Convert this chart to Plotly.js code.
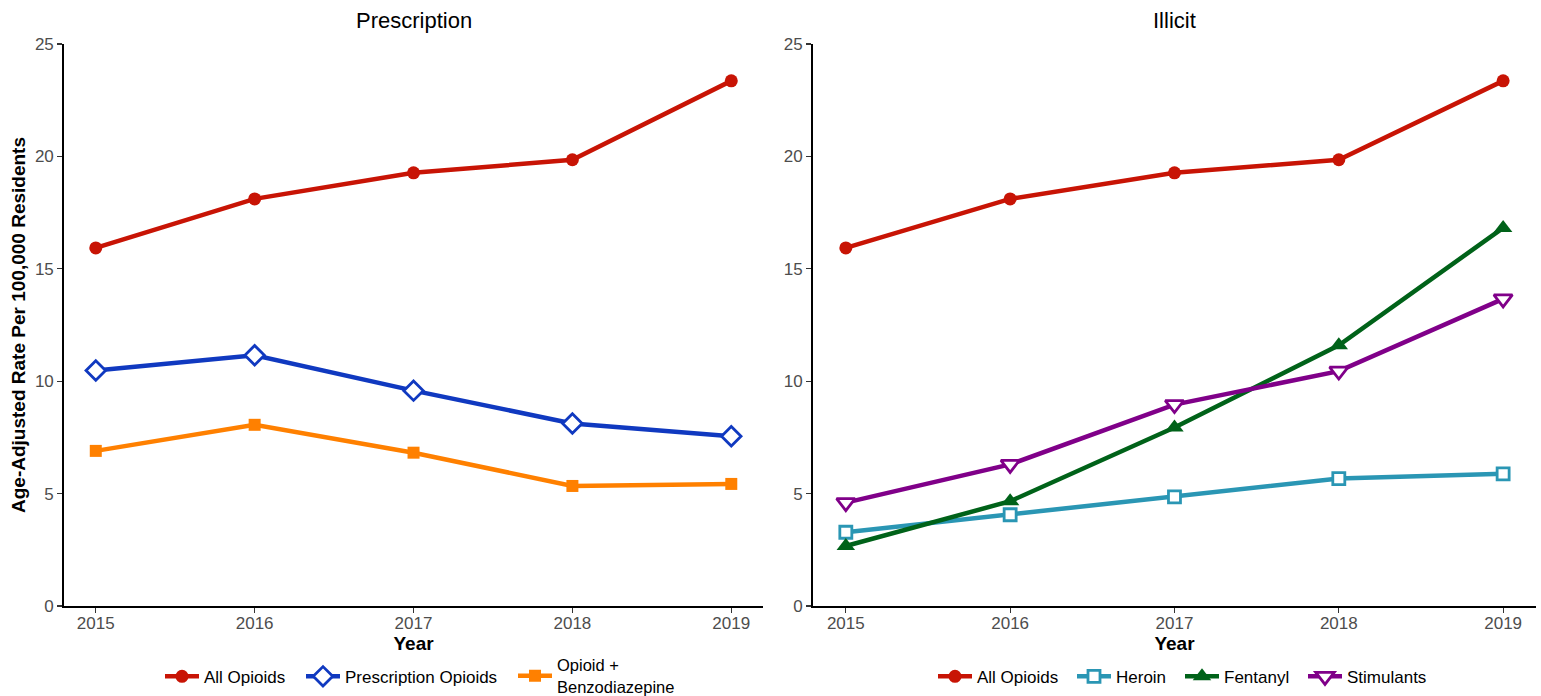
<!DOCTYPE html>
<html>
<head>
<meta charset="utf-8">
<script src="https://cdn.plot.ly/plotly-3.0.1.min.js"></script>
<style>html,body{margin:0;padding:0;background:#fff;}#chart{width:1541px;height:696px;}</style>
</head>
<body>
<div id="chart"></div>
<script>
const years = [2015, 2016, 2017, 2018, 2019];
const allOpioids = [15.93, 18.11, 19.27, 19.85, 23.36];
const prescriptionOpioids = [10.48, 11.15, 9.58, 8.12, 7.55];
const opioidBenzo = [6.9, 8.06, 6.82, 5.34, 5.43];
const heroin = [3.28, 4.06, 4.85, 5.67, 5.88];
const fentanyl = [2.67, 4.66, 7.94, 11.6, 16.82];
const stimulants = [4.6, 6.3, 8.96, 10.45, 13.66];
const yTicks = [0, 5, 10, 15, 20, 25];
const panelTitles = ["Prescription", "Illicit"];

const RED = '#C81405', BLUE = '#1039C0', ORANGE = '#FF8000', TEAL = '#2A96B4', GREEN = '#006219', PURPLE = '#800089';
const LW = 4.5;

function tr(y, name, color, sym, xa, ya, leg, open, size) {
  return {
    x: years, y: y, name: name, type: 'scatter', mode: 'lines+markers',
    xaxis: xa, yaxis: ya, legend: leg,
    line: {color: color, width: LW},
    marker: {symbol: sym, size: size || 12, color: open ? '#ffffff' : color,
             line: {color: color, width: open ? 2.8 : 0}},
    hoverinfo: 'x+y+name'
  };
}

const data = [
  tr(allOpioids, 'All Opioids', RED, 'circle', 'x', 'y', 'legend', false, 13),
  tr(prescriptionOpioids, 'Prescription Opioids', BLUE, 'diamond', 'x', 'y', 'legend2', true, 15),
  tr(opioidBenzo, 'Opioid +<br>Benzodiazepine', ORANGE, 'square', 'x', 'y', 'legend3', false, 12),
  tr(allOpioids, 'All Opioids', RED, 'circle', 'x2', 'y2', 'legend4', false, 13),
  tr(heroin, 'Heroin', TEAL, 'square', 'x2', 'y2', 'legend5', true, 12),
  tr(fentanyl, 'Fentanyl', GREEN, 'triangle-up', 'x2', 'y2', 'legend6', false, 16),
  tr(stimulants, 'Stimulants', PURPLE, 'triangle-down', 'x2', 'y2', 'legend7', true, 16)
];

const FONT = 'Liberation Sans, Arial, sans-serif';
function xax(domain, anchor) {
  return {
    domain: domain, anchor: anchor, range: [2014.8, 2019.2], automargin: false,
    tickvals: years, ticktext: years.map(String),
    showgrid: false, zeroline: false, showline: true, linecolor: '#000', linewidth: 1.8,
    ticks: 'outside', ticklen: 5, tickcolor: '#333', tickwidth: 1.2, ticklabelstandoff: -4,
    tickfont: {family: FONT, size: 17, color: '#4d4d4d'},
    title: {text: '<b>Year</b>', font: {family: FONT, size: 19, color: '#000'}, standoff: 3}
  };
}
function yax(anchor, title) {
  return {
    domain: [0, 1], anchor: anchor, range: [0, 25], automargin: false,
    tickvals: yTicks, showgrid: false, zeroline: false, showline: true, linecolor: '#000', linewidth: 1.8,
    ticks: 'outside', ticklen: 5, tickcolor: '#333', tickwidth: 1.2,
    tickfont: {family: FONT, size: 17, color: '#4d4d4d'},
    title: {text: title, font: {family: FONT, size: 19, color: '#000'}, standoff: 4}
  };
}

// legend entry text start positions (px) -> paper x
const PLOT_L = 64, PLOT_W = 1472, ITEMW = 34;
function leg(textStartPx, fontSize, yc) {
  return {
    orientation: 'h', yanchor: 'middle', y: yc || -0.126, xanchor: 'left',
    x: (textStartPx - ITEMW - 10 - PLOT_L) / PLOT_W,
    font: {family: FONT, size: fontSize || 17, color: '#000'}, bgcolor: 'rgba(0,0,0,0)',
    itemwidth: ITEMW, valign: 'middle'
  };
}

const layout = {
  width: 1541, height: 696,
  margin: {l: 64, r: 5, t: 44, b: 90, autoexpand: false},
  paper_bgcolor: '#fff', plot_bgcolor: '#fff',
  font: {family: FONT},
  showlegend: true,
  xaxis: xax([0, 0.4749], 'y'),
  yaxis: yax('x', '<b>Age-Adjusted Rate Per 100,000 Residents</b>'),
  xaxis2: xax([0.5088, 1], 'y2'),
  yaxis2: yax('x2', ''),
  legend: leg(204),
  legend2: leg(345),
  legend3: leg(557, 16.5, -0.124),
  legend4: leg(977),
  legend5: leg(1116),
  legend6: leg(1224),
  legend7: leg(1347),
  annotations: [
    {text: panelTitles[0], xref: 'paper', yref: 'paper', x: 0.2375, y: 1, yshift: 24, showarrow: false,
     xanchor: 'center', yanchor: 'middle', font: {family: FONT, size: 22, color: '#000'}},
    {text: panelTitles[1], xref: 'paper', yref: 'paper', x: 0.7544, y: 1, yshift: 24, showarrow: false,
     xanchor: 'center', yanchor: 'middle', font: {family: FONT, size: 22, color: '#000'}}
  ]
};

Plotly.newPlot('chart', data, layout, {displayModeBar: false, staticPlot: true});
</script>
</body>
</html>
